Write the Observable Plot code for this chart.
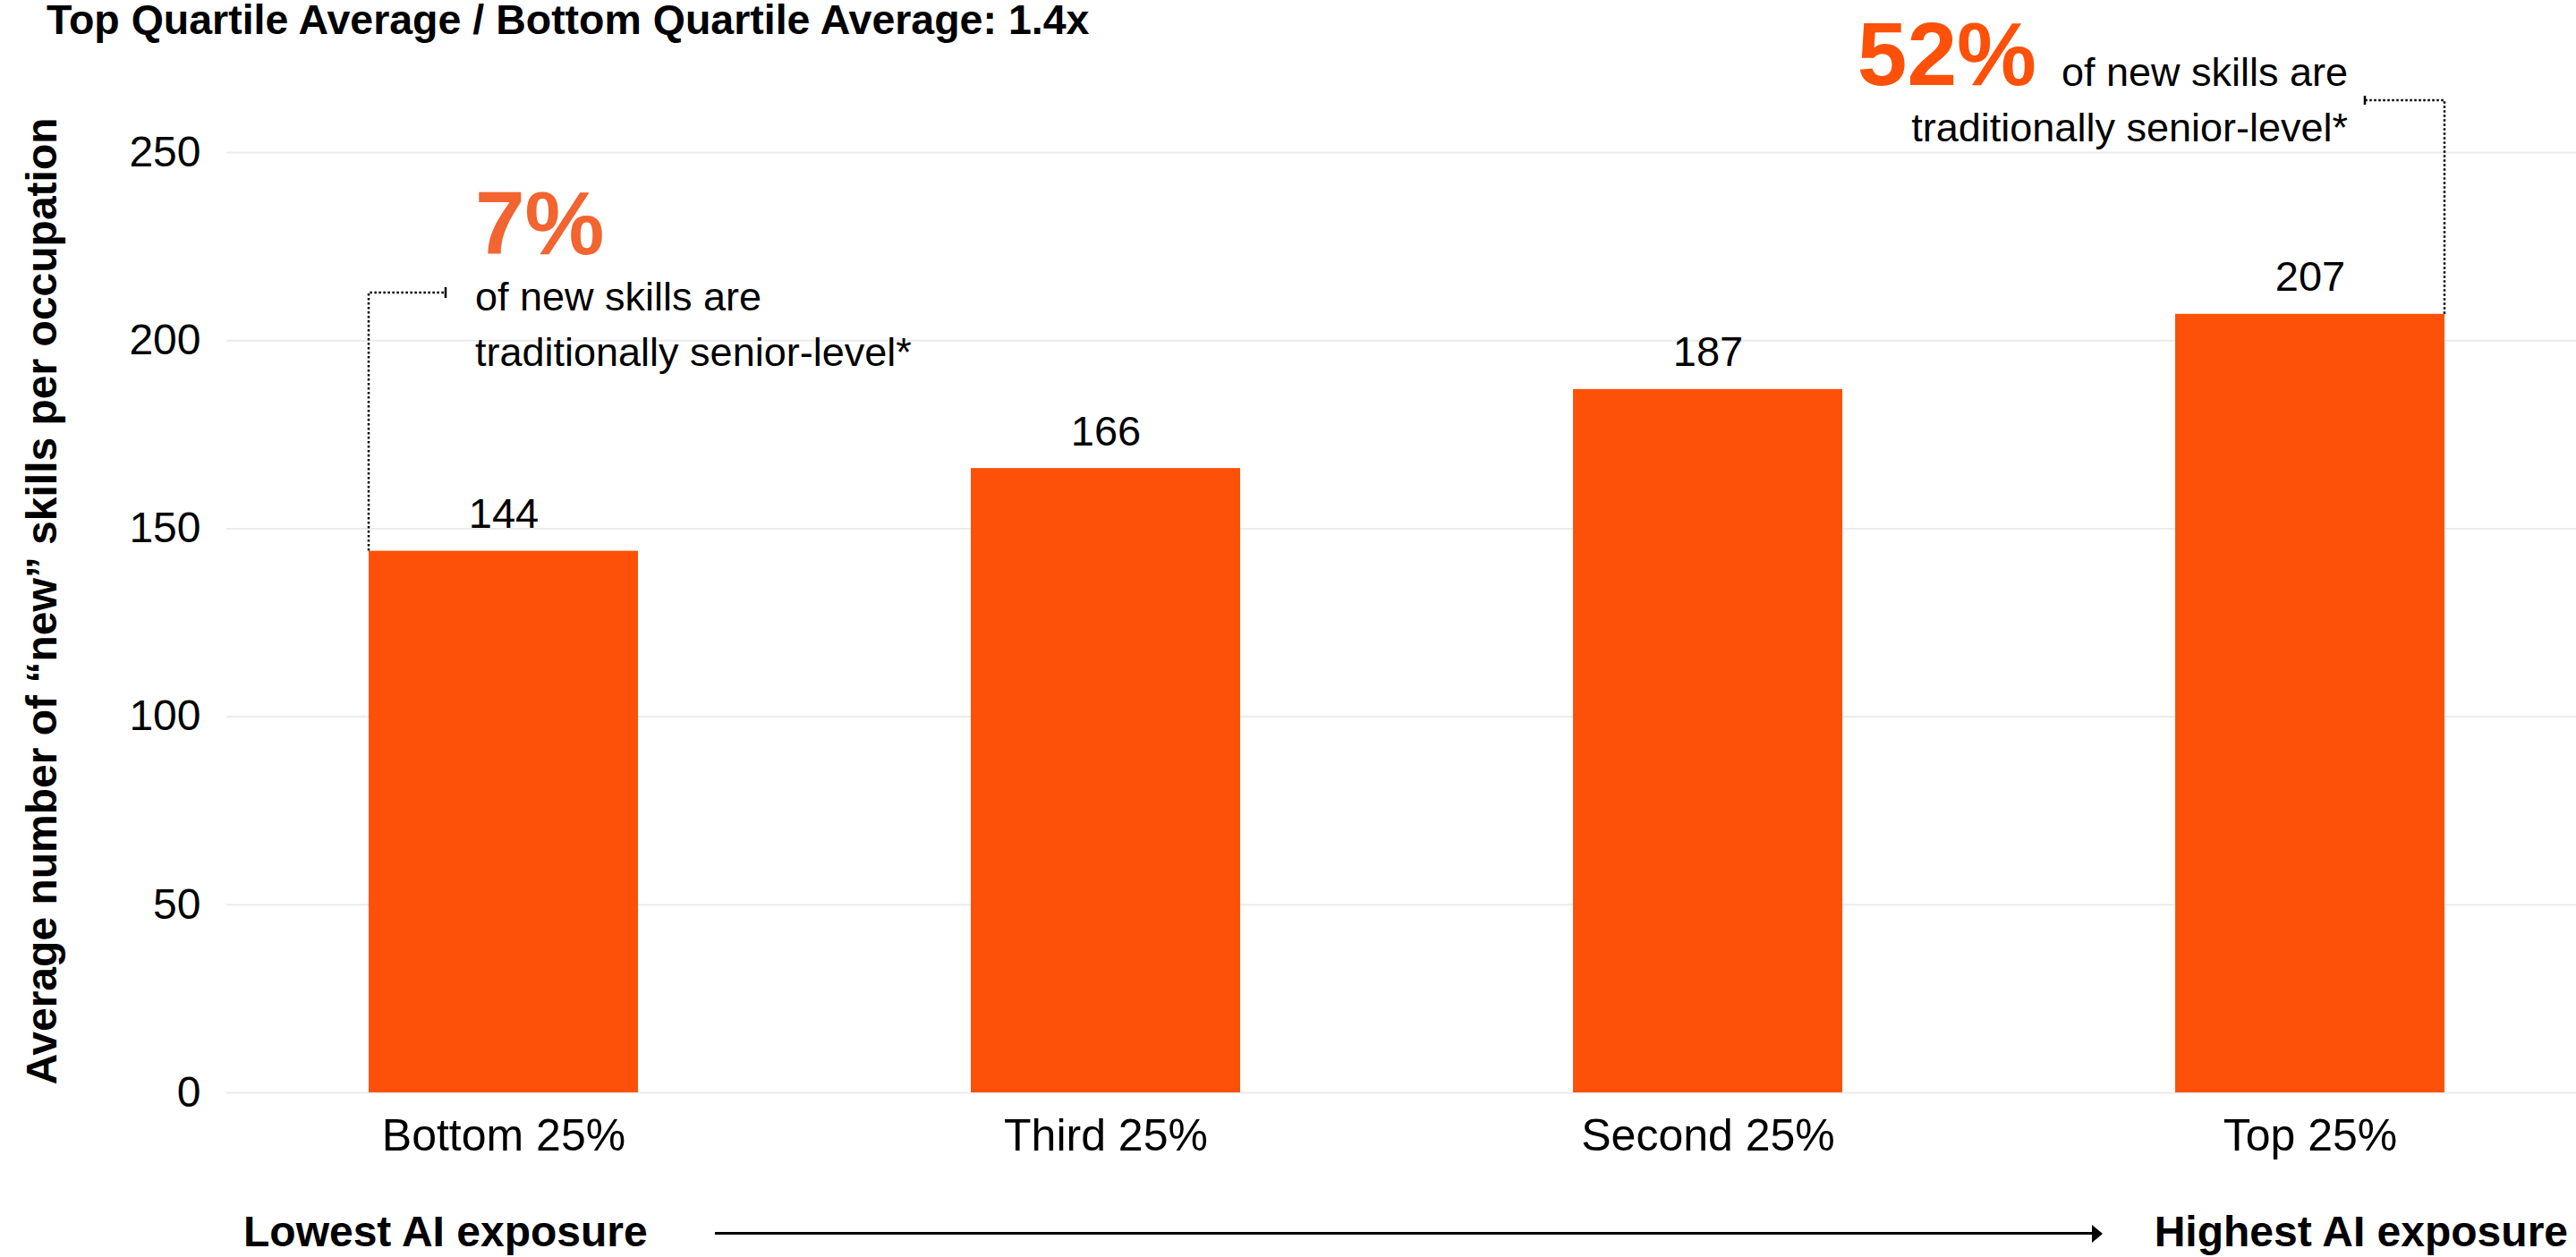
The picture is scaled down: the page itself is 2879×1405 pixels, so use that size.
<!DOCTYPE html>
<html>
<head>
<meta charset="utf-8">
<script src="https://cdn.jsdelivr.net/npm/d3@7"></script>
<script src="https://cdn.jsdelivr.net/npm/@observablehq/plot@0.6"></script>
<style>
  html, body { margin: 0; padding: 0; background: #fff; overflow: hidden; }
  #wrap { position: relative; width: 2879px; height: 1405px; font-family: "Liberation Sans", Arial, Helvetica, sans-serif; color: #000; }
  #chart { position: absolute; left: 0; top: 0; }
  #title { position: absolute; left: 52px; top: 0; font-weight: bold; font-size: 46.5px; line-height: 44px; white-space: nowrap; }
  .foot { position: absolute; top: 1353px; font-weight: bold; font-size: 48px; line-height: 48px; white-space: nowrap; }
  #lowest { left: 272px; }
  #highest { right: 9px; }
  #arrow { position: absolute; left: 799px; width: 1545px; top: 1377px; height: 0; border-top: 3px solid #000; }
  #arrow::after { content: ""; position: absolute; right: -6px; top: -11.5px; border-left: 12px solid #000; border-top: 10px solid transparent; border-bottom: 10px solid transparent; }
  [aria-label^="x-axis"] text { font-size: 50px; }
</style>
</head>
<body>
<div id="wrap">
  <div id="chart"></div>
  <div id="title"></div>
  <div class="foot" id="lowest"></div>
  <div id="arrow"></div>
  <div class="foot" id="highest"></div>
</div>
<script>
// ---- data ----
const categories = ["Bottom 25%", "Third 25%", "Second 25%", "Top 25%"];
const values = [144, 166, 187, 207];
const yTicks = [0, 50, 100, 150, 200, 250];
const titleText = "Top Quartile Average / Bottom Quartile Average: 1.4x";
const yLabel = "Average number of \u201cnew\u201d skills per occupation";
const noteCategories = ["Bottom 25%", "Top 25%"];
const notePercents = ["7%", "52%"];
const noteLines = ["of new skills are", "traditionally senior-level*"];
const exposureEnds = ["Lowest AI exposure", "Highest AI exposure"];

// ---- build ----
const data = categories.map((c, i) => ({category: c, value: values[i]}));
const notes = noteCategories.map((c, i) => ({category: c, pct: notePercents[i], value: values[categories.indexOf(c)]}));

document.getElementById("title").textContent = titleText;
document.getElementById("lowest").textContent = exposureEnds[0];
document.getElementById("highest").textContent = exposureEnds[1];

const FONT = "'Liberation Sans', Arial, Helvetica, sans-serif";
const ORANGE = "#fd5109";
const ORANGE_LIGHT = "#f26430";

// dotted connector lines from the bar edges to the annotations
function connectors(...args) {
  const scales = args.find(a => a && typeof a.x === "function" && typeof a.y === "function");
  const dims = args.find(a => a && typeof a.marginTop === "number" && typeof a.width === "number");
  const g = d3.create("svg:g");
  if (!scales || !dims) return g.node();
  const x = scales.x, y = scales.y, bw = x.bandwidth();
  const top = dims.marginTop;
  const dot = {stroke: "#000", "stroke-width": 2.5, "stroke-dasharray": "2.5 2.5", fill: "none"};
  const solid = {stroke: "#000", "stroke-width": 2.5, fill: "none"};
  const path = (d, st) => { const p = g.append("path").attr("d", d); for (const k in st) p.attr(k, st[k]); };
  // left note: from the left edge of the first bar
  const left = notes[0];
  const lx = x(left.category), ly = top + 157;
  path(`M${lx},${y(left.value)}V${ly}H${lx + 85}`, dot);
  path(`M${lx + 86},${ly - 6}V${ly + 6}`, solid);
  // right note: from the right edge of the last bar
  const right = notes[1];
  const rx = x(right.category) + bw, ry = top - 58;
  path(`M${rx},${y(right.value)}V${ry}H${rx - 88}`, dot);
  path(`M${rx - 89},${ry - 5}V${ry + 5}`, solid);
  return g.node();
}

const chart = Plot.plot({
  width: 2879,
  height: 1340,
  marginLeft: 253,
  marginRight: 0,
  marginTop: 170,
  marginBottom: 119,
  style: {fontFamily: FONT, fontSize: "48px", color: "#000", background: "#fff", overflow: "visible"},
  x: {domain: categories, paddingInner: 0.553, paddingOuter: 0.2266, align: 0.518, tickSize: 0, tickPadding: 29, label: null},
  y: {domain: [0, 250], ticks: yTicks, tickSize: 0, tickPadding: 29, label: null},
  marks: [
    Plot.ruleY(yTicks, {stroke: "#ebebeb", strokeWidth: 2}),
    Plot.barY(data, {x: "category", y: "value", fill: ORANGE}),
    Plot.text(data, {x: "category", y: "value", text: d => String(d.value), lineAnchor: "bottom", dy: -26, fontSize: 47, fill: "#000"}),
    Plot.text([yLabel], {text: d => d, frameAnchor: "left", rotate: -90, textAnchor: "middle", lineAnchor: "bottom", dx: -191, dy: -24, fontSize: 48, fontWeight: "bold", fill: "#000"}),
    // left annotation
    Plot.text([notes[0]], {x: "category", text: "pct", frameAnchor: "top", textAnchor: "start", lineAnchor: "bottom", dx: -32, dy: 113, fontSize: 100, fontWeight: "bold", fill: ORANGE_LIGHT}),
    Plot.text([notes[0]], {x: "category", text: () => noteLines.join("\n"), frameAnchor: "top", textAnchor: "start", lineAnchor: "bottom", lineHeight: 1.378, dx: -32, dy: 238, fontSize: 45, fill: "#000"}),
    // right annotation
    Plot.text([notes[1]], {x: "category", text: "pct", frameAnchor: "top", textAnchor: "end", lineAnchor: "bottom", dx: -306, dy: -76, fontSize: 100, fontWeight: "bold", fill: ORANGE}),
    Plot.text([notes[1]], {x: "category", text: () => noteLines.join("\n"), frameAnchor: "top", textAnchor: "end", lineAnchor: "bottom", lineHeight: 1.378, dx: 42, dy: -13, fontSize: 45, fill: "#000"}),
    connectors
  ]
});
document.getElementById("chart").appendChild(chart);
</script>
</body>
</html>
